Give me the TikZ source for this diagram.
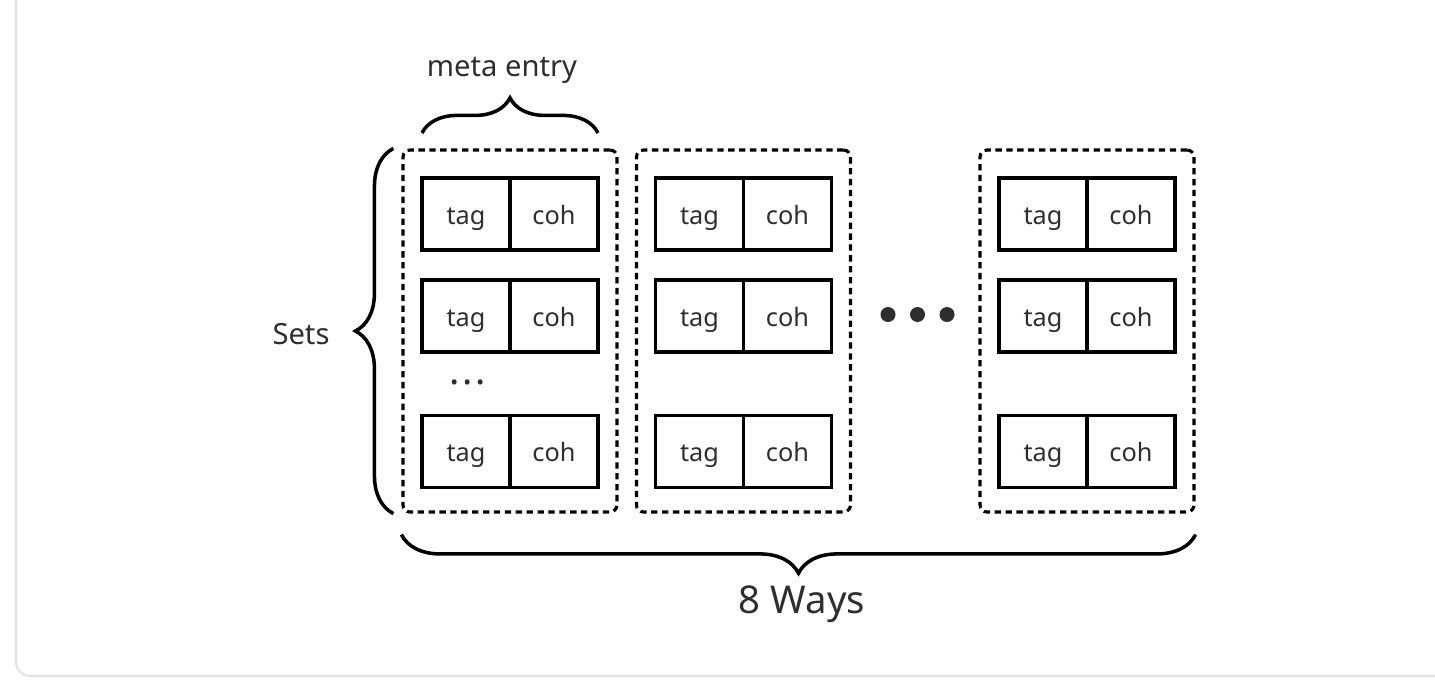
\documentclass[tikz,border=0pt]{standalone}
\usepackage{fontspec}
\setmainfont{Noto Sans}
\usetikzlibrary{positioning,decorations.pathreplacing}
\definecolor{txtgray}{HTML}{2E2E2E}
\definecolor{framegray}{HTML}{E2E2E2}
\tikzset{
	way/.style={draw, line width=0.9pt, dash pattern=on 1.8pt off 1.3pt, rounded corners=2pt, minimum width=2.14cm, minimum height=3.62cm, inner sep=0pt},
	half/.style={draw, line width=1.1pt, minimum width=0.88cm, minimum height=0.72cm, inner sep=0pt, outer sep=0pt, text=txtgray, text height=1.45ex, text depth=0.35ex, font=\fontsize{7.2}{8}\selectfont},
	curly/.style={decorate, decoration={brace, amplitude=#1}, line width=1pt},
	lbl/.style={text=txtgray, inner sep=0pt}
}
\begin{document}
\begin{tikzpicture}
	\useasboundingbox (0,0) rectangle (14.35,6.8);
	\draw[framegray, line width=0.6pt, rounded corners=4pt] (0.16,6.92) rectangle (14.6,0.04);
	\foreach \c/\x in {1/5.10, 2/7.435, 3/10.87}{
		\node[way] (w\c) at (\x,3.49) {};
		\foreach \r/\y in {1/4.66, 2/3.64, 3/2.285}{
			\node[half, anchor=east] (t\c\r) at (\x,\y) {tag};
			\node[half, anchor=west] (h\c\r) at (\x,\y) {coh};
		}
	}
	\node[lbl, font=\fontsize{11}{12}\selectfont] (vdots) at (4.68,2.98) {.\kern0.75pt.\kern0.75pt.};
	\foreach \i/\x in {1/8.88, 2/9.175, 3/9.47}
		\fill[txtgray] (\x,3.655) circle (0.075);
	\draw[curly=10pt] ([yshift=0.45cm]t11.north west) -- ([yshift=0.45cm]h11.north east);
	\node[lbl, font=\fontsize{8.3}{10}\selectfont] (meta) at (5.02,6.10) {meta entry};
	\draw[curly=10.8pt] ([xshift=-0.08cm]w1.south west) -- ([xshift=-0.08cm]w1.north west);
	\node[lbl, font=\fontsize{8.3}{10}\selectfont] (sets) at (3.01,3.46) {Sets};
	\draw[curly=11pt] ([yshift=-0.21cm]w3.south east) -- ([yshift=-0.21cm]w1.south west);
	\node[lbl, font=\fontsize{10.9}{12}\selectfont] (ways) at (8.02,0.76) {8 Ways};
\end{tikzpicture}
\end{document}
